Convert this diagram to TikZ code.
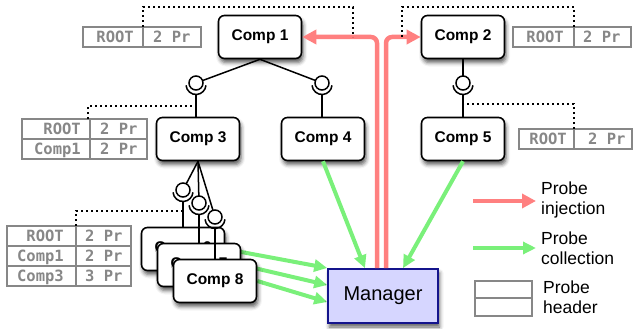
\documentclass[tikz,border=0pt]{standalone}
\usepackage{fontspec}
\setmainfont{Liberation Sans}
\newfontfamily\hdrfont{DejaVu Sans Mono}[BoldFont={DejaVu Sans Mono Bold}]
\usetikzlibrary{arrows.meta,shadows.blur,backgrounds,calc}

\definecolor{injred}{RGB}{255,128,128}
\definecolor{colgreen}{RGB}{122,240,122}
\definecolor{hdrgray}{RGB}{135,135,135}
\definecolor{mgrfill}{RGB}{214,214,255}
\definecolor{mgrline}{RGB}{20,20,140}

\tikzset{
  softshadow/.style={blur shadow={shadow xshift=1.5pt, shadow yshift=-4pt,
      shadow blur radius=4pt, shadow opacity=65}},
  comp/.style={draw, line width=1.6pt, rounded corners=6pt, fill=white,
      minimum width=83pt, minimum height=43pt, inner sep=0pt,
      font=\fontsize{15.5}{18}\selectfont\bfseries, softshadow},
  manager/.style={draw=mgrline, line width=1.6pt, fill=mgrfill,
      minimum width=110pt, minimum height=54pt, inner sep=0pt,
      font=\fontsize{20}{24}\selectfont, softshadow},
  ball/.style={circle, draw, fill=white, line width=1.5pt,
      minimum size=14pt, inner sep=0pt},
  link/.style={line width=1.5pt},
  cell/.style={draw=hdrgray, line width=1.4pt},
  htext/.style={text=hdrgray, inner sep=0pt,
      font=\hdrfont\bfseries\fontsize{15.5}{17}\selectfont},
  dots/.style={line width=2pt, dash pattern=on 2pt off 3pt},
  inject/.style={draw=injred, line width=4.5pt, rounded corners=6pt,
      -{Triangle[length=14pt,width=14pt]}},
  collect/.style={draw=colgreen, line width=4pt,
      -{Triangle[length=13pt,width=12pt]}},
  legend/.style={anchor=west, align=left, inner sep=0pt,
      font=\fontsize{17.5}{20}\selectfont},
}

\begin{document}
\begin{tikzpicture}[x=1pt,y=-1pt]
\useasboundingbox (0,0) rectangle (635,329);

% components
\node[comp] (c1) at (260,37) {Comp 1};
\node[comp] (c2) at (463,37) {Comp 2};
\node[comp] (c3) at (198,139) {Comp 3};
\node[comp] (c4) at (323,139) {Comp 4};
\node[comp] (c5) at (463,139) {Comp 5};
\node[comp] (c6) at (183,249) {Comp 6};
\node[comp] (c7) at (199,265) {Comp 7};
\node[comp] (c8) at (215,281) {Comp 8};
\node[manager] (mgr) at (383,296) {Manager};

% probe collection (behind the stacked components)
\begin{scope}[on background layer]
  \draw[collect] (c6.east) -- ($(mgr.west)+(0,-28)$);
  \draw[collect] (c7.east) -- ($(mgr.west)+(0,-11)$);
  \draw[collect] (c8.east) -- ($(mgr.west)+(0,6)$);
\end{scope}
\draw[collect] (c4.south) -- ($(mgr.north)+(-18,0)$);
\draw[collect] (c5.south) -- ($(mgr.north)+(20,0)$);

% probe injection
\coordinate (rl) at ($(mgr.north)+(-6,0)$);
\coordinate (rr) at ($(mgr.north)+(3,0)$);
\draw[inject] (rl) |- (c1.east);
\draw[inject] (rr) |- (c2.west);

% parent-to-child bindings (ball and socket)
\draw[link] (c1.south) -- (196,83);
\draw[link] (c1.south) -- (322,83);
\draw[link] (c2.south) -- (463,83);
\draw[link] (c3.south) -- (183,190);
\draw[link] (c3.south) -- (199,203);
\draw[link] (c3.south) -- (215,217);

\node[ball] (b3) at (196,83) {};
\node[ball] (b4) at (322,83) {};
\node[ball] (b5) at (463,83) {};
\node[ball] (b6) at (183,190) {};
\node[ball] (b7) at (199,203) {};
\node[ball] (b8) at (215,217) {};

\foreach \b/\c in {b3/c3, b4/c4, b5/c5, b6/c6, b7/c7, b8/c8} {
  \draw[link] ($(\b)+(0,1.5)$) ++(185:10pt) arc[start angle=185, end angle=355, radius=10pt];
  \draw[link] ($(\b)+(0,11.5)$) -- (\b |- \c.north);
}

% probe headers
\draw[cell] (83,27) rectangle (201,47);
\draw[cell] (143,27) -- (143,47);
\node[htext, anchor=base east] (h1a) at (134,42.5) {ROOT};
\node[htext, anchor=base west] (h1b) at (153,42.5) {2 Pr};

\draw[cell] (513,27) rectangle (631,47);
\draw[cell] (574,27) -- (574,47);
\node[htext, anchor=base east] (h2a) at (564,42.5) {ROOT};
\node[htext, anchor=base west] (h2b) at (583,42.5) {2 Pr};

\draw[cell] (519,129) rectangle (632,149);
\draw[cell] (574,129) -- (574,149);
\node[htext, anchor=base east] (h5a) at (567,144.5) {ROOT};
\node[htext, anchor=base west] (h5b) at (588,144.5) {2 Pr};

\draw[cell] (22,119) rectangle (147,159);
\draw[cell] (22,139) -- (147,139);
\draw[cell] (90,119) -- (90,159);
\node[htext, anchor=base east] (h3a) at (81,134.5) {ROOT};
\node[htext, anchor=base west] (h3b) at (100,134.5) {2 Pr};
\node[htext, anchor=base east] (h3c) at (81,154.5) {Comp1};
\node[htext, anchor=base west] (h3d) at (100,154.5) {2 Pr};

\draw[cell] (7,226) rectangle (131,286);
\draw[cell] (7,246) -- (131,246);
\draw[cell] (7,266) -- (131,266);
\draw[cell] (76,226) -- (76,286);
\node[htext, anchor=base east] (h4a) at (64,241.5) {ROOT};
\node[htext, anchor=base west] (h4b) at (85,241.5) {2 Pr};
\node[htext, anchor=base east] (h4c) at (64,261.5) {Comp1};
\node[htext, anchor=base west] (h4d) at (85,261.5) {2 Pr};
\node[htext, anchor=base east] (h4e) at (64,281.5) {Comp3};
\node[htext, anchor=base west] (h4f) at (85,281.5) {3 Pr};

% header tags
\coordinate (j1) at (353,37);
\coordinate (j2) at (402,37);
\draw[dots] (143,27) |- (353,7) -- (j1);
\draw[dots] (j2) |- (574,7) -- (574,27);
\draw[dots] (88,119) |- (196,106);
\draw[dots] (76,226) |- (183,211);
\draw[dots] (574,129) |- (463,104);

% legend
\coordinate (la1) at (473,201); \coordinate (la2) at (536,201);
\coordinate (lb1) at (473,248); \coordinate (lb2) at (536,248);
\draw[draw=injred, line width=4.5pt, -{Triangle[length=14pt,width=14pt]}] (la1) -- (la2);
\draw[collect] (lb1) -- (lb2);
\node[legend] (lt1) at (541,200) {Probe\\injection};
\node[legend] (lt2) at (541,248) {Probe\\collection};
\draw[cell] (475,281) rectangle (532,316);
\draw[cell] (475,298) -- (532,298);
\node[legend] (lt3) at (543,297) {Probe\\header};
\end{tikzpicture}
\end{document}
